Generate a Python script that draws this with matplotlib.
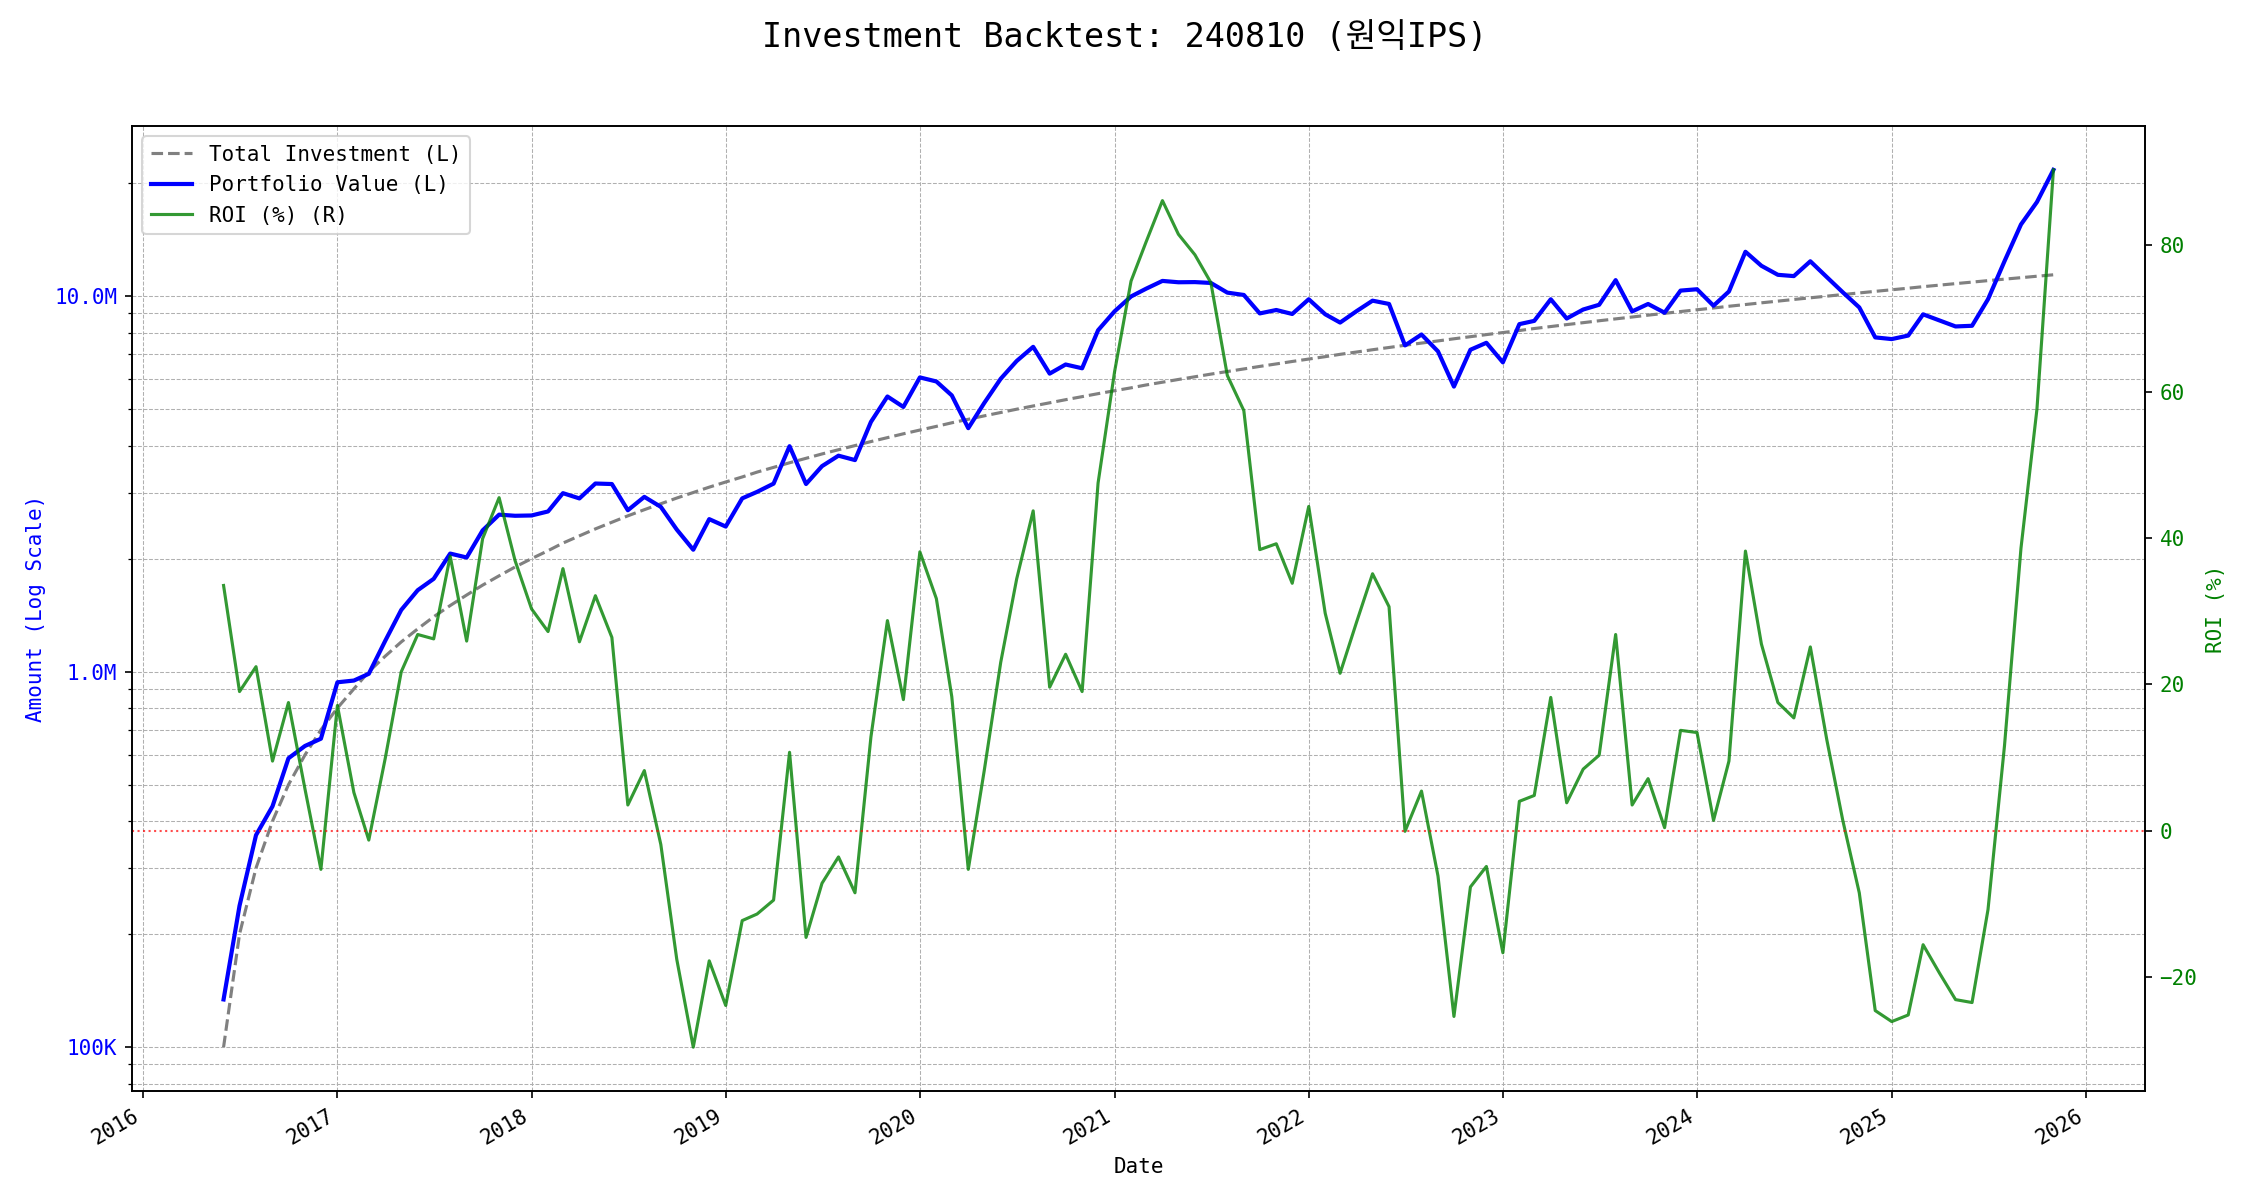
import matplotlib
matplotlib.use('Agg')
import matplotlib.pyplot as plt
import matplotlib.ticker as mticker
import numpy as np
import pandas as pd

plt.rcParams['font.family'] = ['DejaVu Sans Mono', 'Noto Sans CJK KR']

title = 'Investment Backtest: 240810 (원익IPS)'
start_month = '2016-06-01'

# cumulative invested amount (thousand KRW)
total_investment_k = [
    100, 200, 300, 400, 500, 600, 700, 800, 900, 1000, 1100, 1200,
    1300, 1400, 1500, 1600, 1700, 1800, 1900, 2000, 2100, 2200, 2300, 2400,
    2500, 2600, 2700, 2800, 2900, 3000, 3100, 3200, 3300, 3400, 3500, 3600,
    3700, 3800, 3900, 4000, 4100, 4200, 4300, 4400, 4500, 4600, 4700, 4800,
    4900, 5000, 5100, 5200, 5300, 5400, 5500, 5600, 5700, 5800, 5900, 6000,
    6100, 6200, 6300, 6400, 6500, 6600, 6700, 6800, 6900, 7000, 7100, 7200,
    7300, 7400, 7500, 7600, 7700, 7800, 7900, 8000, 8100, 8200, 8300, 8400,
    8500, 8600, 8700, 8800, 8900, 9000, 9100, 9200, 9300, 9400, 9500, 9600,
    9700, 9800, 9900, 10000, 10100, 10200, 10300, 10400, 10500, 10600, 10700, 10800,
    10900, 11000, 11100, 11200, 11300, 11400,
]

# portfolio value (thousand KRW)
portfolio_value_k = [
    134, 238, 367, 438, 588, 634, 663, 937, 947, 987, 1209, 1460,
    1648, 1767, 2063, 2014, 2378, 2619, 2601, 2606, 2671, 2988, 2893, 3170,
    3160, 2691, 2921, 2747, 2390, 2112, 2548, 2435, 2894, 3012, 3168, 3985,
    3160, 3526, 3760, 3660, 4625, 5405, 5070, 6076, 5927, 5442, 4451, 5194,
    6027, 6720, 7329, 6219, 6577, 6426, 8113, 9111, 9981, 10463, 10980, 10890,
    10901, 10844, 10219, 10074, 8996, 9187, 8965, 9812, 8949, 8505, 9124, 9727,
    9534, 7393, 7905, 7129, 5744, 7199, 7513, 6664, 8424, 8594, 9811, 8719,
    9214, 9486, 11032, 9108, 9532, 9036, 10347, 10433, 9430, 10293, 13129, 12048,
    11398, 11309, 12385, 11240, 10241, 9333, 7766, 7686, 7854, 8946, 8614, 8305,
    8339, 9812, 12388, 15523, 17809, 21694,
]

# ROI (%)
roi_pct = [
    33.5, 19.0, 22.4, 9.5, 17.5, 5.7, -5.3, 17.1, 5.2, -1.3, 9.9, 21.7,
    26.8, 26.2, 37.5, 25.9, 39.9, 45.5, 36.9, 30.3, 27.2, 35.8, 25.8, 32.1,
    26.4, 3.5, 8.2, -1.9, -17.6, -29.6, -17.8, -23.9, -12.3, -11.4, -9.5, 10.7,
    -14.6, -7.2, -3.6, -8.5, 12.8, 28.7, 17.9, 38.1, 31.7, 18.3, -5.3, 8.2,
    23.0, 34.4, 43.7, 19.6, 24.1, 19.0, 47.5, 62.7, 75.1, 80.4, 86.1, 81.5,
    78.7, 74.9, 62.2, 57.4, 38.4, 39.2, 33.8, 44.3, 29.7, 21.5, 28.5, 35.1,
    30.6, -0.1, 5.4, -6.2, -25.4, -7.7, -4.9, -16.7, 4.0, 4.8, 18.2, 3.8,
    8.4, 10.3, 26.8, 3.5, 7.1, 0.4, 13.7, 13.4, 1.4, 9.5, 38.2, 25.5,
    17.5, 15.4, 25.1, 12.4, 1.4, -8.5, -24.6, -26.1, -25.2, -15.6, -19.5, -23.1,
    -23.5, -10.8, 11.6, 38.6, 57.6, 90.3,
]

dates = pd.date_range(start_month, periods=len(roi_pct), freq='MS')
invest = np.array(total_investment_k) * 1000.0
value = np.array(portfolio_value_k) * 1000.0

fig, ax1 = plt.subplots(figsize=(15, 8), dpi=150)
fig.subplots_adjust(left=0.0587, right=0.9533, top=0.895, bottom=0.0908)

l1, = ax1.plot(dates, invest, color='gray', linestyle='--', linewidth=1.5,
               label='Total Investment (L)')
l2, = ax1.plot(dates, value, color='blue', linewidth=2, label='Portfolio Value (L)')
ax1.set_yscale('log')


def amount_fmt(x, pos):
    if x >= 1e6:
        return f'{x / 1e6:.1f}M'
    return f'{x / 1e3:.0f}K'


ax1.yaxis.set_major_formatter(mticker.FuncFormatter(amount_fmt))
ax1.yaxis.set_minor_formatter(mticker.NullFormatter())
ax1.set_ylabel('Amount (Log Scale)', color='blue')
ax1.tick_params(axis='y', labelcolor='blue')
ax1.set_xlabel('Date')
ax1.grid(True, which='both', linestyle='--', linewidth=0.5)

ax2 = ax1.twinx()
l3, = ax2.plot(dates, roi_pct, color='green', alpha=0.8, linewidth=1.5, label='ROI (%) (R)')
ax2.axhline(0, color='red', linestyle=':', linewidth=1, alpha=0.7)
ax2.set_ylabel('ROI (%)', color='green')
ax2.tick_params(axis='y', labelcolor='green')

plt.setp(ax1.get_xticklabels(), rotation=30, ha='right')

ax2.legend([l1, l2, l3], [l.get_label() for l in (l1, l2, l3)], loc='upper left')
fig.suptitle(title, fontsize=16, y=0.969, va='center')

fig.savefig('out.png', dpi=150)
